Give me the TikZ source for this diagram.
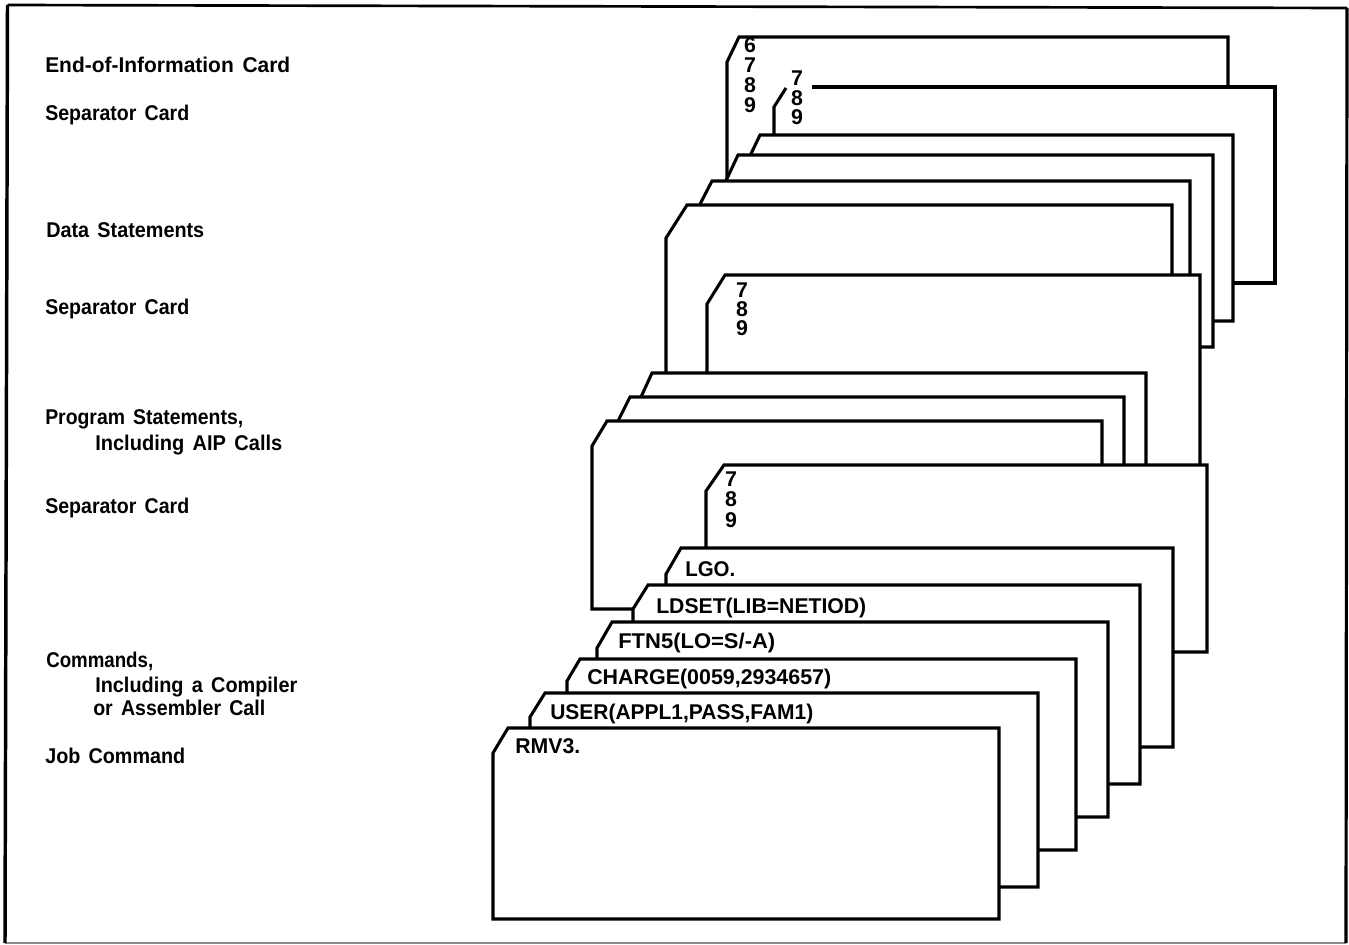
\documentclass[tikz,border=0pt]{standalone}
\usepackage{graphicx}
\usepackage{fontspec}
\setmainfont{Liberation Sans}[WordSpace=1.5]
\newcommand{\fitw}[2]{\resizebox{\dimexpr #1pt*3/4\relax}{\height}{#2}}
\tikzset{
  x=0.75pt,y=-0.75pt,
  card/.style={draw=black,fill=white,line width=2.3pt,line join=miter},
  lab/.style={anchor=base west,inner sep=0pt,font=\fontsize{16}{16}\bfseries},
  num/.style={anchor=base,inner sep=0pt,font=\fontsize{16}{16}\bfseries},
  frameb/.style={draw=black,line width=2.6pt},
  framet/.style={draw=black,line width=2pt},
  framer/.style={draw=black,line width=2.4pt},
  frameg/.style={draw=black!45,line width=1.2pt}
}
\newcommand{\cardshape}[8]{% name, chamfer top x, top y, chamfer low x, low y, right, bottom, unused
  \draw[card] (#2,#3) -- (#6,#3) -- (#6,#7) -- (#4,#7) -- (#4,#5) -- cycle;}
\begin{document}
\begin{tikzpicture}
\useasboundingbox (0,0) rectangle (1349,945);
\fill[white] (0,0) rectangle (1349,945);
\coordinate (f1) at (7.5,5);
\coordinate (f2) at (1347,8);
\coordinate (f3) at (1346,943);
\coordinate (f4) at (5,943);
\draw[frameg] (f4) -- (f3);
\draw[frameb] (f1) -- (f4);
\draw[framet] (f1) -- (f2);
\draw[framer] (f2) -- (f3);
% cards back to front
\cardshape{A}{739}{37}{727}{62}{1228}{200}{}
\fill[white] (787,87) -- (1275,87) -- (1275,283) -- (774,283) -- (774,107) -- cycle;
\draw[card,fill=none] (812,87) -- (1275,87) -- (1275,283) -- (1200,283);
\coordinate (bl) at (774,135);
\coordinate (bt) at (774,107);
\coordinate (bc) at (786,88);
\draw[card,fill=none] (bl) -- (bt) -- (bc);
\cardshape{C}{760}{135}{748}{160}{1233}{321}{}
\cardshape{D}{738}{155}{724}{185}{1213}{347}{}
\cardshape{E}{712}{181}{697}{210}{1190}{400}{}
\cardshape{F}{687}{205}{666}{238}{1172}{400}{}
\cardshape{G}{725}{275}{707}{304}{1200}{480}{}
\cardshape{H}{652}{373}{641}{397}{1146}{480}{}
\cardshape{I}{630}{397}{618}{421}{1124}{480}{}
\cardshape{J}{607}{421}{592}{446}{1102}{609}{}
\cardshape{K}{724}{465}{706}{491}{1207}{652}{}
\cardshape{L}{681}{548}{666}{574}{1173}{747}{}
\cardshape{M}{648}{585}{633}{609}{1140}{784}{}
\cardshape{N}{612}{622}{597}{648}{1108}{817}{}
\cardshape{O}{580}{659}{567}{681}{1076}{850}{}
\cardshape{P}{545}{693}{530}{717}{1038}{887}{}
\cardshape{Q}{508}{728}{493}{753}{999}{919}{}
% digits
\node[num] (a6) at (750,53) {6};
\node[num] (a7) at (750,73) {7};
\node[num] (a8) at (750,93) {8};
\node[num] (a9) at (750,113) {9};
\node[num] (b7) at (797,86) {7};
\node[num] (b8) at (797,106) {8};
\node[num] (b9) at (797,125) {9};
\node[num] (g7) at (742,297) {7};
\node[num] (g8) at (742,316) {8};
\node[num] (g9) at (742,335) {9};
\node[num] (k7) at (731,486) {7};
\node[num] (k8) at (731,506) {8};
\node[num] (k9) at (731,527) {9};
% card texts
\node[lab] (lgo) at (685,576) {\fitw{50}{LGO.}};
\node[lab] (lds) at (656,613) {\fitw{210}{LDSET(LIB=NETIOD)}};
\node[lab] (ftn) at (618,648) {\fitw{157}{FTN5(LO=S/-A)}};
\node[lab] (chg) at (587,684) {\fitw{244}{CHARGE(0059,2934657)}};
\node[lab] (usr) at (550,719) {\fitw{263}{USER(APPL1,PASS,FAM1)}};
\node[lab] (rmv) at (515,753) {\fitw{65}{RMV3.}};
% left labels
\node[lab] (t1) at (45,73) {\fitw{245}{End-of-Information Card}};
\node[lab] (t2) at (45,121) {\fitw{144}{Separator Card}};
\node[lab] (t3) at (46,238) {\fitw{158}{Data Statements}};
\node[lab] (t4) at (45,314) {\fitw{144}{Separator Card}};
\node[lab] (t5) at (45,424) {\fitw{198}{Program Statements,}};
\node[lab] (t6) at (95,450) {\fitw{187}{Including AIP Calls}};
\node[lab] (t7) at (45,513) {\fitw{144}{Separator Card}};
\node[lab] (t8) at (46,667) {\fitw{107}{Commands,}};
\node[lab] (t9) at (95,692) {\fitw{202}{Including a Compiler}};
\node[lab] (t10) at (93,715) {\fitw{172}{or Assembler Call}};
\node[lab] (t11) at (45,763) {\fitw{140}{Job Command}};
\end{tikzpicture}
\end{document}
